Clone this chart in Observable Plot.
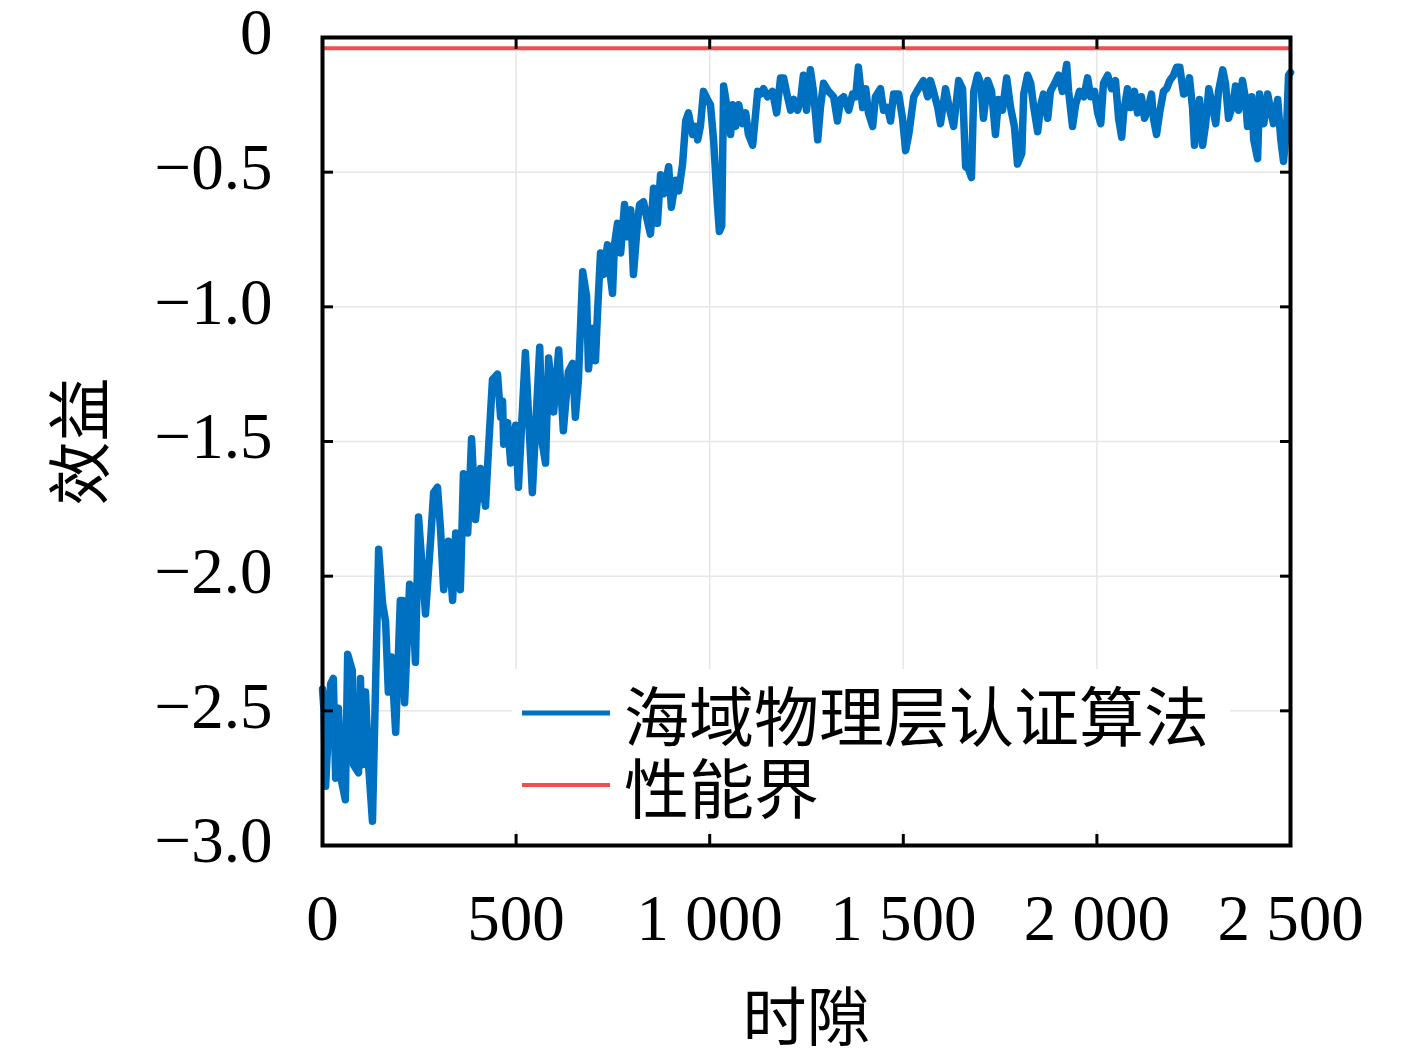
<!DOCTYPE html>
<html>
<head>
<meta charset="utf-8">
<script src="https://cdn.jsdelivr.net/npm/d3@7"></script>
<script src="https://cdn.jsdelivr.net/npm/@observablehq/plot@0.6"></script>
<style>
  html, body { margin: 0; padding: 0; background: #fff; }
  #wrap { position: relative; width: 1417px; height: 1058px; }
  #wrap g[aria-label="line"] path { stroke-width: 7.5px; }
  #legend { position: absolute; left: 512px; top: 669px; width: 718px; height: 161px; background: #fff; }
  .row { position: absolute; left: 0; height: 66px; display: flex; align-items: center; }
  .row svg { margin-left: 10px; }
  .row span { margin-left: 14px; font-family: "Noto Sans CJK SC", sans-serif; font-size: 65px; line-height: 66px; height: 66px; color: #000; }
</style>
</head>
<body>
<div id="wrap"></div>
<script>
// time slots (x) and gains (y) of the proposed algorithm
const slots = [0,4,8,21,28,34,41,49,59,65,77,80,93,98,103,111,119,129,134,145,155,163,170,178,189,201,207,212,225,232,240,248,266,279,287,297,305,313,325,336,344,356,364,375,385,395,408,421,429,439,452,460,465,468,478,486,499,506,524,532,542,550,561,568,576,584,597,610,622,635,646,653,661,672,682,687,697,705,710,718,726,736,744,749,754,762,770,780,788,796,803,814,819,829,839,847,855,865,873,881,894,901,912,920,930,938,945,956,963,969,976,984,994,1002,1010,1020,1025,1031,1036,1046,1054,1059,1067,1075,1085,1093,1100,1111,1124,1131,1139,1149,1162,1173,1183,1191,1201,1209,1217,1227,1235,1242,1250,1260,1268,1279,1286,1294,1307,1320,1330,1338,1346,1359,1369,1377,1384,1395,1403,1410,1421,1428,1441,1449,1459,1467,1475,1488,1498,1506,1514,1527,1539,1552,1563,1570,1578,1589,1596,1609,1620,1630,1643,1653,1661,1669,1676,1682,1692,1700,1707,1718,1728,1738,1746,1756,1767,1777,1787,1795,1806,1811,1821,1829,1837,1847,1855,1862,1873,1880,1891,1901,1911,1922,1927,1937,1945,1955,1966,1976,1984,1994,2002,2010,2017,2028,2038,2048,2056,2064,2069,2079,2087,2097,2105,2115,2123,2131,2141,2146,2154,2162,2172,2180,2188,2198,2206,2214,2224,2234,2239,2247,2252,2260,2265,2273,2281,2289,2299,2307,2314,2325,2332,2340,2351,2358,2366,2376,2384,2389,2400,2405,2415,2420,2431,2441,2449,2456,2467,2475,2482,2490,2495,2500];
const gains = [-2.42,-2.50,-2.78,-2.40,-2.38,-2.75,-2.49,-2.76,-2.83,-2.29,-2.35,-2.70,-2.73,-2.38,-2.70,-2.43,-2.70,-2.91,-2.60,-1.90,-2.10,-2.17,-2.43,-2.30,-2.58,-2.09,-2.09,-2.47,-2.03,-2.05,-2.32,-1.78,-2.14,-1.87,-1.69,-1.67,-1.83,-2.05,-1.87,-2.09,-1.84,-2.05,-1.62,-1.84,-1.49,-1.79,-1.60,-1.74,-1.52,-1.27,-1.25,-1.41,-1.35,-1.51,-1.43,-1.58,-1.44,-1.67,-1.17,-1.40,-1.69,-1.46,-1.15,-1.51,-1.58,-1.19,-1.39,-1.16,-1.46,-1.24,-1.21,-1.41,-1.27,-0.87,-0.96,-1.23,-1.08,-1.20,-1.03,-0.80,-0.88,-0.77,-0.89,-0.95,-0.77,-0.69,-0.80,-0.62,-0.74,-0.64,-0.88,-0.68,-0.62,-0.61,-0.68,-0.73,-0.56,-0.69,-0.51,-0.58,-0.48,-0.63,-0.53,-0.57,-0.47,-0.31,-0.28,-0.36,-0.33,-0.38,-0.33,-0.20,-0.23,-0.25,-0.38,-0.62,-0.72,-0.70,-0.18,-0.27,-0.36,-0.25,-0.33,-0.25,-0.32,-0.28,-0.36,-0.40,-0.20,-0.21,-0.19,-0.22,-0.20,-0.28,-0.15,-0.15,-0.22,-0.27,-0.23,-0.27,-0.23,-0.14,-0.27,-0.12,-0.20,-0.38,-0.26,-0.17,-0.20,-0.22,-0.31,-0.23,-0.22,-0.27,-0.21,-0.22,-0.11,-0.26,-0.19,-0.28,-0.33,-0.22,-0.19,-0.27,-0.26,-0.31,-0.21,-0.21,-0.30,-0.42,-0.36,-0.22,-0.19,-0.16,-0.22,-0.16,-0.20,-0.26,-0.32,-0.19,-0.27,-0.33,-0.16,-0.19,-0.48,-0.49,-0.52,-0.20,-0.14,-0.17,-0.30,-0.16,-0.20,-0.36,-0.23,-0.27,-0.15,-0.26,-0.33,-0.47,-0.43,-0.21,-0.14,-0.17,-0.26,-0.35,-0.25,-0.21,-0.30,-0.20,-0.17,-0.14,-0.20,-0.10,-0.20,-0.33,-0.25,-0.20,-0.22,-0.15,-0.22,-0.20,-0.28,-0.32,-0.17,-0.14,-0.19,-0.16,-0.30,-0.37,-0.28,-0.19,-0.26,-0.20,-0.28,-0.22,-0.30,-0.27,-0.21,-0.30,-0.36,-0.28,-0.20,-0.19,-0.16,-0.14,-0.11,-0.11,-0.21,-0.20,-0.15,-0.26,-0.40,-0.28,-0.23,-0.40,-0.32,-0.19,-0.26,-0.32,-0.20,-0.12,-0.17,-0.30,-0.25,-0.18,-0.27,-0.16,-0.23,-0.33,-0.22,-0.38,-0.45,-0.21,-0.32,-0.21,-0.27,-0.32,-0.23,-0.38,-0.46,-0.33,-0.14,-0.13];
const bound = [-0.04];
const xTicks = [0, 500, 1000, 1500, 2000, 2500];
const yTicks = [0, -0.5, -1.0, -1.5, -2.0, -2.5, -3.0];
const seriesNames = ["海域物理层认证算法", "性能界"];
const seriesColors = ["#0070c0", "#f24e4e"];
const xLabel = "时隙";
const yLabel = "效益";

const data = slots.map((t, i) => ({t, v: gains[i]}));
const fmtX = d => d >= 1000 ? d3.format(",")(d).replace(",", " ") : String(d);
const fmtY = d => d === 0 ? "0" : d3.format(".1f")(d);
const none = () => "";

const numFont = '"Liberation Serif", "DejaVu Serif", serif';
const cjkFont = '"Noto Sans CJK SC", sans-serif';

const plot = Plot.plot({
  width: 1417,
  height: 1058,
  marginLeft: 322,
  marginRight: 127,
  marginTop: 37,
  marginBottom: 213,
  style: {fontFamily: numFont, fontSize: "65px", color: "#000", background: "#fff"},
  x: {domain: [0, 2500]},
  y: {domain: [-3, 0]},
  marks: [
    Plot.gridX(xTicks, {stroke: "#e6e6e6", strokeOpacity: 1, strokeWidth: 1.5}),
    Plot.gridY(yTicks, {stroke: "#e6e6e6", strokeOpacity: 1, strokeWidth: 1.5}),
    Plot.ruleY(bound, {stroke: seriesColors[1], strokeWidth: 4}),
    Plot.line(data, {x: "t", y: "v", stroke: seriesColors[0], strokeWidth: 7.5, strokeLinejoin: "round", strokeLinecap: "round"}),
    Plot.axisX(xTicks, {anchor: "bottom", tickSize: -11, tickPadding: 59, strokeWidth: 3, tickFormat: fmtX, label: null}),
    Plot.axisX(xTicks, {anchor: "top", tickSize: -11, strokeWidth: 3, tickFormat: none, label: null}),
    Plot.axisY(yTicks, {anchor: "left", tickSize: -11, strokeWidth: 3, tickFormat: none, label: null}),
    Plot.axisY(yTicks, {anchor: "left", tickSize: 0, tickPadding: 50, dy: -4, tickFormat: fmtY, label: null}),
    Plot.axisY(yTicks, {anchor: "right", tickSize: -11, strokeWidth: 3, tickFormat: none, label: null}),
    Plot.frame({stroke: "#000", strokeWidth: 4}),
    Plot.text([xLabel], {frameAnchor: "bottom", dy: 194, text: d => d, fontFamily: cjkFont, fontSize: 64, fill: "#000"}),
    Plot.text([yLabel], {frameAnchor: "left", dx: -240, rotate: -90, textAnchor: "middle", text: d => d, fontFamily: cjkFont, fontSize: 64, fill: "#000"})
  ]
});

const wrap = document.getElementById("wrap");
wrap.appendChild(plot);

const legend = document.createElement("div");
legend.id = "legend";
seriesNames.forEach((name, i) => {
  const row = document.createElement("div");
  row.className = "row";
  row.style.top = (11 + i * 72) + "px";
  row.innerHTML = `<svg width="88" height="10"><line x1="0" x2="88" y1="5" y2="5" stroke="${seriesColors[i]}" stroke-width="${i === 0 ? 5 : 4}"/></svg><span>${name}</span>`;
  legend.appendChild(row);
});
wrap.appendChild(legend);
</script>
</body>
</html>
